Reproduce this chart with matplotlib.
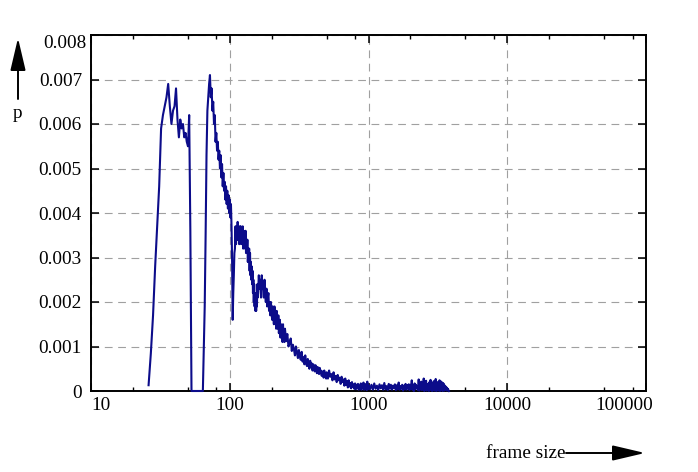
import numpy as np
import matplotlib
matplotlib.use('Agg')
import matplotlib.pyplot as plt
import matplotlib.transforms as mtransforms
from matplotlib.ticker import FixedLocator, NullFormatter

plt.rcParams['font.family'] = ['Liberation Serif', 'DejaVu Serif']
plt.rcParams['font.size'] = 13.9

# ---------------- data ----------------
# frame sizes 26..99 (step 1)
p_a = [0.00013, 0.00085, 0.0017, 0.0028, 0.0037, 0.0046, 0.0059, 0.0062, 0.0064, 0.0066,
       0.0069, 0.0064, 0.0060, 0.0063, 0.0064, 0.0068, 0.0061, 0.0057, 0.0061, 0.0059,
       0.0060, 0.0057, 0.0058, 0.0056, 0.0055, 0.0062, 0.0036, 0.0, 0.0, 0.0,
       0.0, 0.0, 0.0, 0.0, 0.0, 0.0, 0.0, 0.0, 0.0, 0.0010,
       0.0019, 0.0035, 0.0053, 0.0063, 0.0066, 0.0069, 0.0071, 0.0066, 0.0068, 0.0063,
       0.0065, 0.0060, 0.0062, 0.0056, 0.0058, 0.0054, 0.0056, 0.0052, 0.0054, 0.0050,
       0.0053, 0.0048, 0.0051, 0.0046, 0.0049, 0.0045, 0.0047, 0.0043, 0.0046, 0.0042,
       0.0045, 0.0041, 0.0044, 0.0040]
# frame sizes 100..159 (step 1)
p_b = [0.0043, 0.0039, 0.0042, 0.0037, 0.0029, 0.0016, 0.0022, 0.0026, 0.0031, 0.0032,
       0.0037, 0.0033, 0.0037, 0.0034, 0.0038, 0.0034, 0.0036, 0.0033, 0.0037, 0.0034,
       0.0037, 0.0033, 0.0035, 0.0034, 0.0037, 0.0032, 0.0036, 0.0033, 0.0035, 0.0032,
       0.0036, 0.0031, 0.0034, 0.0031, 0.0034, 0.0029, 0.0032, 0.0029, 0.0032, 0.0027,
       0.0031, 0.0026, 0.0029, 0.0025, 0.0028, 0.0024, 0.0027, 0.0022, 0.0025, 0.0020,
       0.0024, 0.0019, 0.0022, 0.0018, 0.0021, 0.0018, 0.0022, 0.0019, 0.0024, 0.0021]
# frame sizes 160..250 (step 2)
p_c = [0.0022, 0.0026, 0.0023, 0.0025, 0.0021, 0.0026, 0.0023, 0.0024, 0.0021, 0.0025,
       0.0022, 0.0020, 0.0023, 0.0019, 0.0021, 0.0022, 0.0018, 0.0020, 0.0017, 0.0020,
       0.0018, 0.0016, 0.0019, 0.0017, 0.0015, 0.0019, 0.0016, 0.0017, 0.0014, 0.0018,
       0.0015, 0.0014, 0.0017, 0.0013, 0.0015, 0.0016, 0.0012, 0.0015, 0.0013, 0.0014,
       0.0011, 0.0015, 0.0012, 0.0013, 0.0011, 0.0014]
# frame sizes 255..500 (step 5)
p_d = [0.00112, 0.00128, 0.00100, 0.00108, 0.00118, 0.00090, 0.00104, 0.00094, 0.00080, 0.00100,
       0.00086, 0.00074, 0.00092, 0.00078, 0.00070, 0.00088, 0.00066, 0.00076, 0.00060, 0.00080,
       0.00064, 0.00056, 0.00072, 0.00058, 0.00050, 0.00068, 0.00054, 0.00062, 0.00046, 0.00060,
       0.00052, 0.00044, 0.00058, 0.00048, 0.00040, 0.00054, 0.00044, 0.00038, 0.00052, 0.00040,
       0.00046, 0.00034, 0.00044, 0.00038, 0.00030, 0.00046, 0.00034, 0.00040, 0.00028, 0.00042]
# frame sizes 510..1000 (step 10)
p_e = [0.00028, 0.00046, 0.00032, 0.00038, 0.00024, 0.00042, 0.00026, 0.00034, 0.00020, 0.00036,
       0.00024, 0.00030, 0.00016, 0.00032, 0.00020, 0.00026, 0.00012, 0.00028, 0.00014, 0.00022,
       0.00008, 0.00024, 0.00010, 0.00018, 0.00006, 0.00020, 0.00009, 0.00015, 0.00005, 0.00017,
       0.00004, 0.00014, 0.00008, 0.00016, 0.00003, 0.00012, 0.00006, 0.00017, 0.00003, 0.00013,
       0.00007, 0.00019, 0.00003, 0.00012, 0.00005, 0.00016, 0.00002, 0.00021, 0.00004, 0.00013]
# frame sizes 1025..3800 (step 25)
p_f = [0.00004, 0.00014, 0.00003, 0.00017, 0.00005, 0.00012, 0.00002, 0.00015, 0.00006, 0.00013,
       0.00003, 0.00018, 0.00004, 0.00011, 0.00002, 0.00016, 0.00005, 0.00014, 0.00003, 0.00012,
       0.00006, 0.00015, 0.00002, 0.00013, 0.00004, 0.00019, 0.00003, 0.00011, 0.00005, 0.00014,
       0.00001, 0.00012, 0.00004, 0.00016, 0.00003, 0.00013, 0.00006, 0.00015, 0.00002, 0.00014,
       0.00005, 0.00024, 0.00003, 0.00012, 0.00000, 0.00017, 0.00004, 0.00014, 0.00006, 0.00011,
       0.00002, 0.00026, 0.00001, 0.00015, 0.00005, 0.00021, 0.00002, 0.00013, 0.00004, 0.00028,
       0.00000, 0.00014, 0.00005, 0.00023, 0.00001, 0.00016, 0.00003, 0.00012, 0.00000, 0.00020,
       0.00004, 0.00025, 0.00002, 0.00014, 0.00000, 0.00018, 0.00005, 0.00022, 0.00001, 0.00013,
       0.00003, 0.00027, 0.00000, 0.00015, 0.00004, 0.00020, 0.00001, 0.00014, 0.00005, 0.00024,
       0.00000, 0.00016, 0.00003, 0.00021, 0.00002, 0.00013, 0.00000, 0.00018, 0.00004, 0.00015,
       0.00001, 0.00012, 0.00003, 0.00010, 0.00002, 0.00008, 0.00001, 0.00006, 0.00002, 0.00004,
       0.00001, 0.00000]

size_a = 26 + np.arange(len(p_a))
size_b = 100 + np.arange(len(p_b))
size_c = 160 + 2 * np.arange(len(p_c))
size_d = 255 + 5 * np.arange(len(p_d))
size_e = 510 + 10 * np.arange(len(p_e))
size_f = 1025 + 25 * np.arange(len(p_f))

frame_size = np.concatenate([size_a, size_b, size_c, size_d, size_e, size_f])
prob = np.concatenate([p_a, p_b, p_c, p_d, p_e, p_f])

x_ticks = [10, 100, 1000, 10000, 100000]
x_tick_labels = ['10', '100', '1000', '10000', '100000']
x_minor_mult = [2, 5, 8]
y_ticks = [0, 0.001, 0.002, 0.003, 0.004, 0.005, 0.006, 0.007, 0.008]
y_tick_labels = ['0', '0.001', '0.002', '0.003', '0.004', '0.005', '0.006', '0.007', '0.008']

# ---------------- figure ----------------
W, H = 698, 472
fig = plt.figure(figsize=(W / 100, H / 100), dpi=100)
ax = fig.add_axes([91 / W, 81 / H, 555 / W, 356 / H])

ax.plot(frame_size, prob, color='#0c0c8a', lw=1.5, zorder=3, clip_on=False,
        solid_joinstyle='round')

ax.set_xscale('log')
ax.set_xlim(10, 100000)
ax.set_ylim(0, 0.008)

ax.xaxis.set_major_locator(FixedLocator(x_ticks))
ax.set_xticks(x_ticks, x_tick_labels)
minor = [m * d for d in x_ticks[:-1] for m in x_minor_mult]
ax.xaxis.set_minor_locator(FixedLocator(minor))
ax.xaxis.set_minor_formatter(NullFormatter())
ax.set_yticks(y_ticks, y_tick_labels)

for s in ax.spines.values():
    s.set_linewidth(1.4)
    s.set_color('black')

ax.tick_params(which='major', direction='in', length=5.8, width=1.1,
               top=True, right=True, colors='black')
ax.tick_params(which='minor', direction='in', length=3, width=1.0,
               top=True, right=True)
ax.tick_params(axis='x', which='major', pad=4)
ax.tick_params(axis='y', which='major', pad=6.5)

ax.grid(True, which='major', color='#a0a0a0', lw=0.8, linestyle=(0, (7, 5)))
ax.set_axisbelow(True)

# edge tick labels kept inside like the reference
xl = ax.xaxis.get_majorticklabels()
xl[0].set_ha('left')
xl[-1].set_ha('right')
xl[-1].set_transform(xl[-1].get_transform() +
                     mtransforms.ScaledTranslation(7 / 100, 0, fig.dpi_scale_trans))
yl = ax.yaxis.get_majorticklabels()
yl[-1].set_va('top')
yl[-1].set_transform(yl[-1].get_transform() +
                     mtransforms.ScaledTranslation(5 / 100, 0, fig.dpi_scale_trans))

# axis labels with arrows (gnuplot style)
arrow_style = '-|>,head_length=2.0,head_width=0.47'
fig.text(18 / W, (H - 114) / H, 'p', ha='center', va='center')
ax.annotate('', xy=(18, H - 38), xytext=(18, H - 99),
            xycoords='figure pixels', textcoords='figure pixels',
            arrowprops=dict(arrowstyle=arrow_style, mutation_scale=10, lw=1.4,
                            color='black', shrinkA=0, shrinkB=0), annotation_clip=False)

fig.text(566 / W, (H - 453) / H, 'frame size', ha='right', va='center')
ax.annotate('', xy=(645, H - 453), xytext=(566, H - 453),
            xycoords='figure pixels', textcoords='figure pixels',
            arrowprops=dict(arrowstyle=arrow_style, mutation_scale=10, lw=1.4,
                            color='black', shrinkA=0, shrinkB=0), annotation_clip=False)

fig.savefig('out.png', dpi=100)
